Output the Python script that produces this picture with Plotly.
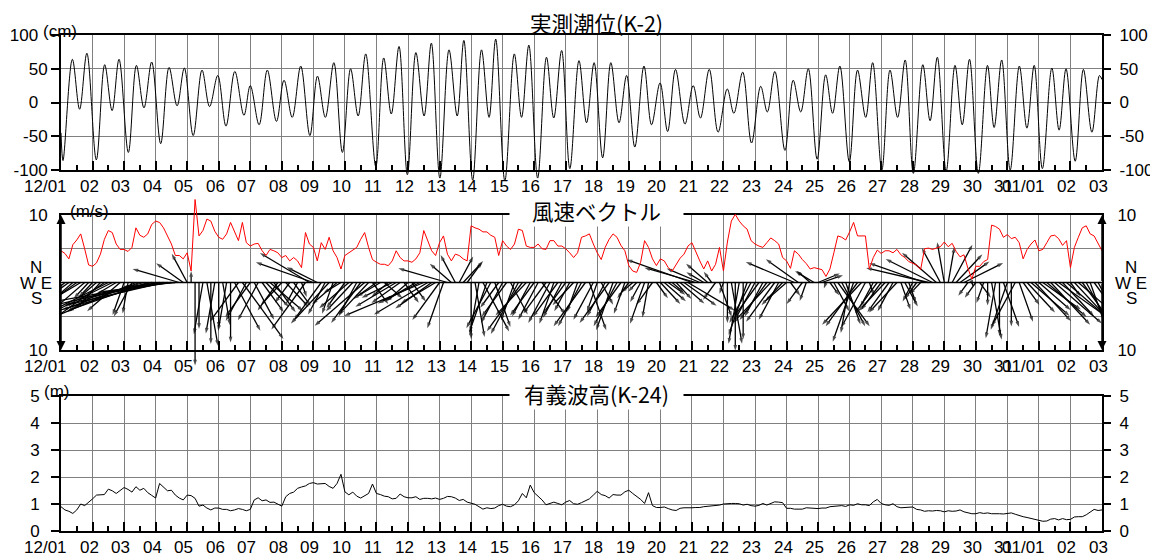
import math
import plotly.graph_objects as go

# ---------------- data ----------------
day_labels = ["12/01", "02", "03", "04", "05", "06", "07", "08", "09", "10",
              "11", "12", "13", "14", "15", "16", "17", "18", "19", "20",
              "21", "22", "23", "24", "25", "26", "27", "28", "29", "30",
              "31", "01/01", "02", "03"]

tide_ticks = [-100, -50, 0, 50, 100]
tide_ticktext = ["-100", "-50", "0", "50", "100"]
wave_ticks = [0, 1, 2, 3, 4, 5]
wave_ticktext = ["0", "1", "2", "3", "4", "5"]

# tide: times of highs / lows (days after 12/01 00:00) and level (cm)
tide_time_day = [
    0.00, 0.063, 0.36, 0.59, 0.82, 1.12, 1.385, 1.62, 1.84, 2.135, 2.39, 2.63, 2.875,
    3.16, 3.425, 3.68, 3.91, 4.19, 4.47, 4.71, 4.97, 5.23, 5.51, 5.80, 6.00, 6.28,
    6.54, 6.83, 7.07, 7.33, 7.60, 7.89, 8.13, 8.38, 8.65, 8.92, 9.18, 9.42, 9.66,
    9.98, 10.23, 10.47, 10.715, 10.98, 11.25, 11.51, 11.74, 12.01, 12.30, 12.56,
    12.77, 13.05, 13.33, 13.57, 13.78, 14.07, 14.37, 14.60, 14.83, 15.11, 15.39,
    15.62, 15.87, 16.13, 16.42, 16.66, 16.90, 17.17, 17.43, 17.69, 17.93, 18.19,
    18.48, 18.72, 18.99, 19.23, 19.48, 19.78, 20.04, 20.27, 20.55, 20.83, 21.12,
    21.33, 21.61, 21.89, 22.18, 22.39, 22.63, 22.95, 23.21, 23.45, 23.69, 23.97,
    24.24, 24.46, 24.69, 24.99, 25.25, 25.51, 25.73, 26.02, 26.28, 26.52, 26.76,
    27.02, 27.32, 27.55, 27.78, 28.06, 28.34, 28.57, 28.80, 29.08, 29.37, 29.58,
    29.82, 30.09, 30.38, 30.62, 30.85, 31.11, 31.41, 31.64, 31.86, 32.15, 32.41,
    32.68, 32.92, 33.00]
tide_level_cm = [
    -45, -86, 64, -10, 73, -85, 56, -12, 64, -74, 55, -8, 60,
    -61, 52, -5, 51, -49, 48, -6, 40, -35, 46, -19, 25, -33,
    48, -28, 33, -22, 54, -49, 39, -22, 59, -74, 50, -20, 72,
    -95, 66, -17, 83, -107, 74, -20, 88, -112, 78, -20,
    92, -115, 78, -22, 94, -116, 72, -22, 85, -112, 67,
    -23, 77, -98, 62, -30, 59, -82, 59, -30, 40, -66,
    54, -33, 29, -43, 49, -32, 25, -23, 49, -44, 20,
    -16, 45, -60, 24, -14, 46, -71, 33, -14, 50, -84,
    41, -16, 54, -88, 48, -22, 59, -100, 48, -22, 63,
    -105, 56, -27, 67, -102, 55, -33, 64, -105, 55, -37,
    63, -100, 54, -38, 55, -98, 51, -41, 50, -87, 49,
    -44, 40, 34]

# wind: 3-hourly speed (m/s) and direction the wind blows from (deg, N=0, E=90)
WIND_STEP_H = 3
wind_speed_ms = [
    4.7, 4.3, 3.5, 5.6, 6.3, 7.2, 5.0, 2.6,
    2.4, 2.9, 4.2, 6.4, 7.7, 7.4, 5.7, 4.9,
    4.9, 4.6, 5.2, 8.1, 7.0, 6.7, 7.2, 8.6,
    9.1, 8.9, 8.1, 6.9, 5.7, 4.0, 4.0, 3.5,
    4.4, 1.7, 12.3, 6.9, 7.7, 9.4, 9.1, 7.6,
    6.7, 6.4, 7.2, 8.9, 7.4, 6.2, 8.9, 5.9,
    5.4, 5.7, 5.8, 4.7, 4.0, 4.9, 4.7, 4.4,
    3.7, 4.0, 3.2, 3.7, 3.2, 2.2, 7.4, 5.7,
    5.2, 3.2, 5.9, 4.9, 6.7, 4.7, 3.7, 2.0,
    4.0, 4.4, 4.7, 5.2, 6.4, 7.4, 5.2, 3.4,
    3.0, 2.7, 2.7, 2.5, 3.2, 4.7, 3.7, 3.2,
    3.2, 3.0, 3.5, 4.4, 7.7, 6.2, 4.7, 4.0,
    5.9, 6.9, 4.2, 3.2, 4.2, 4.0, 3.5, 3.2,
    8.4, 8.1, 7.9, 7.5, 7.5, 7.0, 6.7, 4.0,
    6.2, 5.4, 4.9, 5.7, 7.9, 7.7, 5.4, 5.2,
    5.2, 5.7, 5.0, 4.9, 6.2, 6.2, 5.4, 5.4,
    5.0, 4.4, 3.7, 4.4, 6.7, 6.9, 7.2, 5.7,
    4.4, 3.4, 5.2, 6.4, 7.2, 6.7, 5.5, 4.7,
    2.5, 1.7, 1.5, 3.0, 6.2, 5.2, 3.5, 2.5,
    3.5, 3.2, 2.2, 1.7, 2.7, 3.6, 4.2, 5.4,
    5.9, 4.4, 3.2, 2.0, 3.2, 1.7, 2.7, 5.2,
    1.7, 6.0, 9.1, 10.1, 9.1, 8.4, 7.9, 6.2,
    5.7, 5.4, 5.2, 5.9, 6.6, 6.2, 5.7, 3.7,
    3.2, 2.1, 4.7, 4.2, 3.4, 2.8, 2.0, 2.2,
    2.1, 1.9, 0.9, 2.0, 4.4, 6.9, 6.7, 6.3,
    7.5, 8.9, 6.9, 6.9, 6.9, 2.0, 3.7, 4.8,
    4.3, 4.7, 4.7, 4.4, 4.9, 4.1, 3.7, 3.1,
    2.9, 2.6, 1.9, 5.0, 5.1, 4.9, 5.1, 5.3,
    6.0, 5.3, 5.8, 4.6, 3.8, 4.1, 2.1, 0.5,
    2.4, 2.4, 3.1, 3.4, 8.5, 8.3, 7.9, 6.7,
    7.1, 6.5, 6.7, 5.9, 3.5, 4.9, 5.7, 6.3,
    4.7, 4.9, 5.9, 6.9, 7.0, 6.5, 5.5, 6.2,
    2.2, 5.2, 6.7, 8.1, 8.4, 7.2, 6.9, 5.9,
    4.7]
wind_dir_deg = [
    25, 30, 35, 30, 35, 40, 30, 25,
    25, 30, 25, 35, 45, 45, 40, 30,
    10, 5, 15, 50, 55, 60, 55, 65,
    60, 70, 65, 70, 75, 80, 120, 145,
    165, 180, 0, 0, 5, 355, 0, 5,
    0, 355, 5, 0, 345, 20, 340, 15,
    20, 345, 15, 340, 335, 330, 340, 20,
    25, 335, 20, 340, 15, 350, 20, 140,
    125, 135, 20, 15, 25, 10, 30, 40,
    20, 30, 25, 15, 20, 30, 25, 340,
    35, 40, 330, 30, 45, 40, 35, 340,
    30, 340, 40, 45, 50, 40, 35, 40,
    20, 10, 120, 150, 165, 195, 205, 200,
    0, 355, 5, 345, 10, 15, 350, 20,
    15, 20, 345, 10, 15, 20, 25, 15,
    20, 15, 340, 20, 15, 10, 20, 15,
    20, 15, 25, 10, 15, 20, 350, 15,
    10, 345, 15, 20, 10, 15, 20, 10,
    20, 30, 25, 15, 10, 5, 20, 340,
    335, 330, 325, 330, 335, 330, 325, 320,
    125, 120, 130, 140, 150, 160, 20, 350,
    10, 0, 355, 0, 5, 0, 10, 15,
    15, 20, 15, 20, 25, 20, 15, 25,
    30, 340, 130, 145, 20, 10, 150, 140,
    230, 235, 10, 340, 345, 340, 345, 350,
    5, 10, 20, 25, 15, 350, 15, 20,
    20, 25, 20, 15, 25, 350, 345, 350,
    15, 20, 25, 125, 115, 135, 150, 165,
    175, 185, 195, 205, 215, 225, 20, 350,
    20, 340, 10, 0, 355, 5, 0, 350,
    10, 0, 15, 350, 340, 335, 330, 335,
    330, 325, 330, 335, 330, 325, 335, 330,
    340, 335, 330, 340, 345, 350, 340, 345,
    350]

# significant wave height (m), 3-hourly
WAVE_STEP_H = 3
wave_height_m = [
    0.90, 0.78, 0.73, 0.65, 0.78, 1.00, 0.94, 1.05,
    1.19, 1.33, 1.33, 1.35, 1.55, 1.49, 1.39, 1.49,
    1.61, 1.54, 1.44, 1.64, 1.51, 1.58, 1.42, 1.32,
    1.22, 1.76, 1.61, 1.49, 1.51, 1.33, 1.22, 1.15,
    1.33, 1.31, 1.21, 0.92, 0.96, 0.85, 0.78, 0.85,
    0.85, 0.80, 0.80, 0.75, 0.78, 0.83, 0.80, 0.75,
    0.80, 1.15, 1.23, 1.12, 1.15, 1.06, 1.07, 1.00,
    0.92, 1.27, 1.39, 1.44, 1.58, 1.63, 1.67, 1.76,
    1.79, 1.74, 1.76, 1.76, 1.65, 1.58, 1.76, 2.10,
    1.45, 1.34, 1.44, 1.29, 1.22, 1.32, 1.39, 1.74,
    1.39, 1.35, 1.29, 1.27, 1.19, 1.21, 1.37, 1.27,
    1.23, 1.23, 1.27, 1.17, 1.21, 1.21, 1.19, 1.22,
    1.17, 1.21, 1.28, 1.27, 1.22, 1.13, 1.17, 1.07,
    1.03, 0.99, 0.90, 0.81, 0.86, 0.83, 0.85, 0.94,
    0.99, 0.92, 0.90, 0.97, 1.12, 1.39, 1.23, 1.70,
    1.42, 1.29, 1.15, 0.97, 1.02, 1.07, 1.02, 0.97,
    1.07, 1.13, 1.01, 0.99, 1.05, 1.12, 1.19, 1.33,
    1.47, 1.35, 1.31, 1.22, 1.35, 1.33, 1.33, 1.45,
    1.51, 1.39, 1.29, 1.17, 1.02, 1.42, 0.94, 0.87,
    0.87, 0.89, 0.83, 0.78, 0.76, 0.84, 0.86, 0.85,
    0.86, 0.87, 0.87, 0.90, 0.91, 0.92, 0.94, 0.96,
    1.00, 1.02, 1.02, 1.02, 1.01, 0.96, 0.99, 0.94,
    0.92, 0.95, 1.02, 0.96, 1.03, 1.08, 1.07, 1.05,
    0.84, 0.84, 0.81, 0.81, 0.81, 0.86, 0.85, 0.86,
    0.83, 0.85, 0.85, 0.90, 0.92, 0.94, 0.94, 0.91,
    0.97, 0.95, 1.01, 0.97, 0.97, 0.94, 1.08, 1.17,
    1.02, 0.97, 0.95, 1.01, 0.90, 0.86, 0.87, 0.89,
    0.89, 0.80, 0.78, 0.73, 0.75, 0.74, 0.76, 0.75,
    0.71, 0.75, 0.73, 0.74, 0.78, 0.71, 0.68, 0.64,
    0.64, 0.68, 0.65, 0.67, 0.64, 0.65, 0.64, 0.63,
    0.65, 0.67, 0.62, 0.57, 0.53, 0.50, 0.46, 0.42,
    0.39, 0.36, 0.37, 0.44, 0.46, 0.41, 0.46, 0.42,
    0.43, 0.52, 0.53, 0.53, 0.60, 0.71, 0.80, 0.76,
    0.78]

# ---------------- geometry / style ----------------
# The page body has an 8px margin, so the figure is drawn 8px smaller and
# all target pixel positions are shifted by that offset.
OFF = 8
VIEW_W, VIEW_H = 1158, 557
W, H = VIEW_W - OFF, VIEW_H - OFF
PL, PR = 61, 1102
P1 = (35, 170)
P2 = (215, 350)
P3 = (396, 531)
N_DAYS = len(day_labels) - 1
FONT = "Liberation Sans, Arial, sans-serif"
CJK = "Noto Sans CJK JP, Noto Sans CJK SC, sans-serif"
GRID = "#808080"
NBSP = "\u00a0"


def fy(px):
    return 1 - (px - OFF) / H


def fx(px):
    return (px - OFF) / W


def ext_axis(top_px, bot_px, vmin, vmax, ext_top_px, ext_bot_px):
    per_px = (vmax - vmin) / (bot_px - top_px)
    lo = vmin - (ext_bot_px - bot_px) * per_px
    hi = vmax + (top_px - ext_top_px) * per_px
    return [fy(ext_bot_px), fy(ext_top_px)], [lo, hi]


xdom = [fx(PL), fx(PR)]
tickfont = dict(family=FONT, size=17, color="black")

fig = go.Figure()


def frame_x(anchor):
    return dict(domain=xdom, range=[0, N_DAYS], anchor=anchor, automargin=False,
                tickmode="array", tickvals=list(range(N_DAYS + 1)),
                showticklabels=False, ticks="inside", ticklen=9, tickwidth=2,
                tickcolor="black", showgrid=True, gridcolor=GRID, gridwidth=1,
                showline=True, linecolor="black", linewidth=2, mirror=True,
                zeroline=False, fixedrange=True,
                minor=dict(tickmode="array",
                           tickvals=[i + 0.5 for i in range(N_DAYS)],
                           ticks="inside", ticklen=5, tickwidth=2,
                           tickcolor="black", showgrid=False))


def hidden_x(anchor):
    return dict(domain=xdom, range=[0, N_DAYS], anchor=anchor, visible=False,
                automargin=False, showgrid=False, zeroline=False, fixedrange=True)


def frame_y(panel, rng, tv, tt, anchor, tickcolor="black", standoff=0):
    return dict(domain=[fy(panel[1]), fy(panel[0])], range=rng, anchor=anchor,
                automargin=False,
                tickmode="array", tickvals=tv, ticktext=tt, tickfont=tickfont,
                ticks="outside", ticklen=8, tickwidth=1.5, tickcolor=tickcolor,
                ticklabelstandoff=standoff,
                showgrid=True, gridcolor=GRID, gridwidth=1,
                showline=True, linecolor="black", linewidth=2, mirror=True,
                zeroline=False, fixedrange=True)


def right_y(over, rng, tv, tt, anchor, tickcolor="black", standoff=5):
    return dict(overlaying=over, side="right", range=rng, anchor=anchor,
                automargin=False,
                tickmode="array", tickvals=tv, ticktext=tt, tickfont=tickfont,
                ticks="outside", ticklen=8, tickwidth=1.5, tickcolor=tickcolor,
                ticklabelstandoff=standoff,
                showgrid=False, showline=False, zeroline=False, fixedrange=True)


def hidden_y(dom, rng, anchor):
    return dict(domain=dom, range=rng, anchor=anchor, visible=False, automargin=False,
                showgrid=False, zeroline=False, fixedrange=True)


# left-side tide labels: "100" and "0" sit a little further left in the reference
tide_left_text = [t + NBSP * 2 if t in ("100", "0") else t for t in tide_ticktext]

# panel 1: tide
d1, r1 = ext_axis(P1[0], P1[1], -100, 100, 28, 205)
layout = dict(
    xaxis=frame_x("y"),
    xaxis2=frame_x("y4"),
    xaxis3=frame_x("y7"),
    xaxis4=hidden_x("y3"),
    xaxis5=hidden_x("y6"),
    yaxis=frame_y(P1, [-100, 100], tide_ticks, tide_left_text, "x"),
    yaxis2=right_y("y", [-100, 100], tide_ticks, tide_ticktext, "x"),
    yaxis3=hidden_y(d1, r1, "x4"),
)

# panel 2: wind
wind_ticks = [-10, -5, 0, 5, 10]
wind_tt = ["10", "", "", "", "10"]
d2, r2 = ext_axis(P2[0], P2[1], -10, 10, 188, 390)
layout["yaxis4"] = frame_y(P2, [-10, 10], wind_ticks, wind_tt, "x2",
                           tickcolor="rgba(0,0,0,0)")
layout["yaxis5"] = right_y("y4", [-10, 10], wind_ticks, wind_tt, "x2",
                           tickcolor="rgba(0,0,0,0)", standoff=3)
layout["yaxis6"] = hidden_y(d2, r2, "x5")

# panel 3: wave
layout["yaxis7"] = frame_y(P3, [0, 5], wave_ticks, wave_ticktext, "x3", standoff=8)
layout["yaxis8"] = right_y("y7", [0, 5], wave_ticks, wave_ticktext, "x3")

# ---- traces ----
fig.add_trace(go.Scatter(x=tide_time_day, y=tide_level_cm, mode="lines",
                         line=dict(color="black", width=1, shape="spline", smoothing=1.0),
                         xaxis="x4", yaxis="y3", hoverinfo="skip", showlegend=False))

px_per_day = (PR - PL) / N_DAYS
px_per_ms = (P2[1] - P2[0]) / 20.0
H_EXAG = 2.0
days_per_ms = H_EXAG * px_per_ms / px_per_day

wx, wy, ms = [], [], []
wind_t = [i * WIND_STEP_H / 24.0 for i in range(len(wind_speed_ms))]
for t, s, d in zip(wind_t, wind_speed_ms, wind_dir_deg):
    toward = math.radians(d + 180.0)
    u = s * math.sin(toward)
    v = s * math.cos(toward)
    wx += [t, t + u * days_per_ms, None]
    wy += [0, v, None]
    ms += [0, 6, 0]

fig.add_trace(go.Scatter(x=[0, N_DAYS], y=[0, 0], mode="lines",
                         line=dict(color="black", width=1.5),
                         xaxis="x5", yaxis="y6", hoverinfo="skip", showlegend=False))
fig.add_trace(go.Scatter(x=wx, y=wy, mode="lines+markers",
                         line=dict(color="black", width=1.3),
                         marker=dict(symbol="arrow", size=ms, angleref="previous",
                                     color="black", line=dict(width=0)),
                         xaxis="x5", yaxis="y6", hoverinfo="skip", showlegend=False))
fig.add_trace(go.Scatter(x=wind_t, y=wind_speed_ms, mode="lines",
                         line=dict(color="#ff0000", width=1),
                         xaxis="x5", yaxis="y6", hoverinfo="skip", showlegend=False))

wave_t = [i * WAVE_STEP_H / 24.0 for i in range(len(wave_height_m))]
fig.add_trace(go.Scatter(x=wave_t, y=wave_height_m, mode="lines",
                         line=dict(color="black", width=1),
                         xaxis="x3", yaxis="y7", hoverinfo="skip", showlegend=False))

# dummy (invisible) traces so that every frame axis is drawn
for xa, ya in [("x", "y2"), ("x2", "y5"), ("x3", "y8"), ("x", "y"), ("x2", "y4")]:
    fig.add_trace(go.Scatter(x=[0], y=[0], mode="markers", marker=dict(opacity=0),
                             xaxis=xa, yaxis=ya, hoverinfo="skip", showlegend=False))

# ---- annotations ----
ann = []
for bottom, xref in [(P1[1], "x"), (P2[1], "x2"), (P3[1], "x3")]:
    for i, lab in enumerate(day_labels):
        ann.append(dict(x=i, xref=xref, y=fy(bottom + 16.5), yref="paper",
                        text=lab, showarrow=False, xanchor="right", yanchor="middle",
                        xshift=8, font=tickfont))

titlefont = dict(family=CJK, size=21.5, color="black")
ann.append(dict(x=fx(596), y=fy(22.5), xref="paper", yref="paper", text="実測潮位(K-2)",
                showarrow=False, xanchor="center", yanchor="middle", font=titlefont,
                borderpad=0))
for txt, ypx in [("風速ベクトル", 210.5), ("有義波高(K-24)", 393.5)]:
    ann.append(dict(x=fx(596.5), y=fy(ypx), xref="paper", yref="paper", text=txt,
                    showarrow=False, xanchor="center", yanchor="middle", font=titlefont,
                    bgcolor="white", width=173, borderpad=0))

unitfont = dict(family=FONT, size=17, color="black")
for txt, xp, ypx in [("(cm)", 60, 31), ("(m/s)", 89, 211), ("(m)", 56.5, 391.5)]:
    ann.append(dict(x=fx(xp), y=fy(ypx), xref="paper", yref="paper", text=txt,
                    showarrow=False, xanchor="center", yanchor="middle", font=unitfont))

for cx in (36, 1131):
    for txt, ypx in [("N", 267.5), ("W E", 283), ("S", 298.5)]:
        ann.append(dict(x=fx(cx), y=fy(ypx), xref="paper", yref="paper", text=txt,
                        showarrow=False, xanchor="center", yanchor="middle", font=unitfont))

# axis arrows of the wind panel (centre -> top, centre -> bottom)
for xv in (0, N_DAYS):
    for yv in (10, -10):
        ann.append(dict(x=xv, y=yv, xref="x2", yref="y4", ax=xv, ay=0,
                        axref="x2", ayref="y4", text="", showarrow=True,
                        arrowhead=2, arrowsize=1.2, arrowwidth=1.5, arrowcolor="black"))

layout.update(dict(
    template="none",
    width=W, height=H, autosize=False,
    margin=dict(l=0, r=0, t=0, b=0, pad=0),
    paper_bgcolor="white", plot_bgcolor="rgba(0,0,0,0)",
    showlegend=False, annotations=ann, hovermode=False,
    font=dict(family=FONT, size=17, color="black"),
))
fig.update_layout(**layout)

fig.write_html("out.html")
